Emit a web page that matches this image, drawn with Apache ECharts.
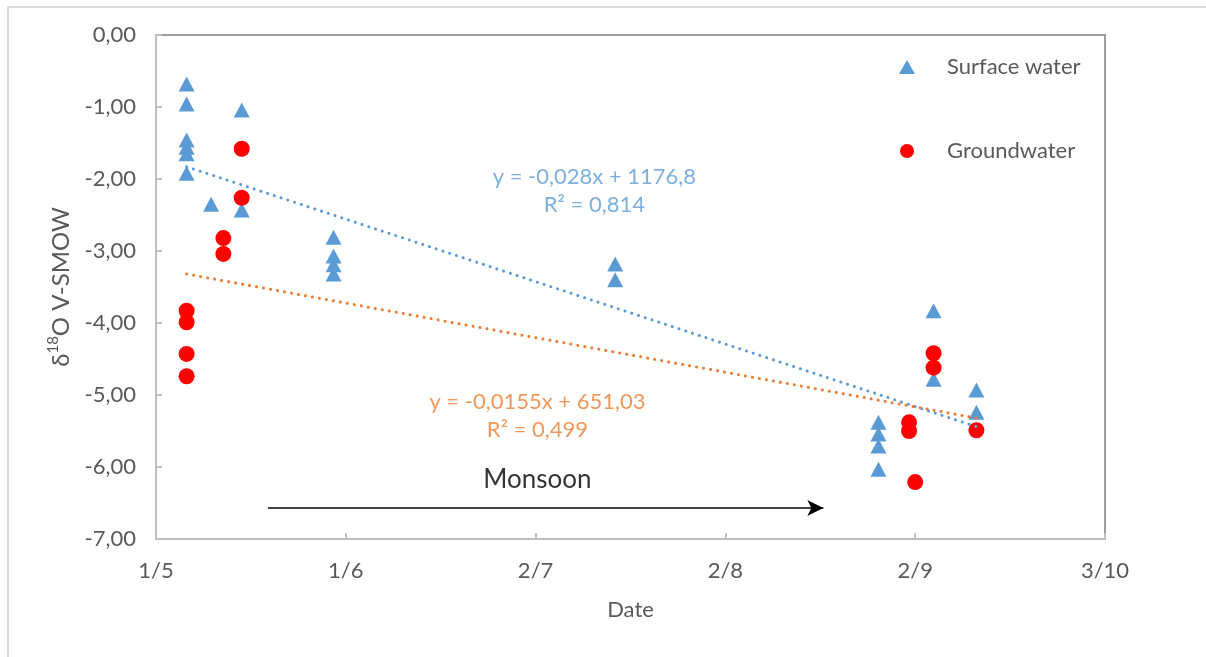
<!DOCTYPE html>
<html>
<head>
<meta charset="utf-8">
<script src="https://cdn.jsdelivr.net/npm/echarts@6/dist/echarts.min.js"></script>
<style>
html,body{margin:0;padding:0;background:#fff;}
#chart{width:1206px;height:657px;}
</style>
</head>
<body>
<div id="chart"></div>
<script>
// Sampling day = days after 1 May
var surfaceDay  = [5, 5, 5, 5, 5, 5, 9, 14, 14, 29, 29, 29, 29, 75, 75, 118, 118, 118, 118, 127, 127, 134, 134];
var surfaceD18O = [-0.68, -0.96, -1.46, -1.56, -1.65, -1.92, -2.35, -1.04, -2.43, -2.81, -3.07, -3.19, -3.32, -3.18, -3.40, -5.38, -5.54, -5.71, -6.03, -3.83, -4.78, -4.93, -5.24];

var groundDay  = [5, 5, 5, 5, 11, 11, 14, 14, 123, 123, 124, 127, 127, 134];
var groundD18O = [-3.83, -3.99, -4.43, -4.74, -2.82, -3.04, -1.58, -2.26, -5.38, -5.50, -6.21, -4.42, -4.62, -5.49];

// Trendline endpoints
var surfaceTrendDay = [5, 134];
var surfaceTrendVal = [-1.83, -5.44];
var groundTrendDay  = [5, 134];
var groundTrendVal  = [-3.32, -5.32];

var xTickLabels = ['1/5', '1/6', '2/7', '2/8', '2/9', '3/10'];
var xTickStep = 31;

var surfaceEq = ['y = -0,028x + 1176,8', 'R\u00b2 = 0,814'];
var groundEq  = ['y = -0,0155x + 651,03', 'R\u00b2 = 0,499'];
var surfaceEqPos = [[71.6, -1.97], [71.6, -2.36]];
var groundEqPos  = [[62.3, -5.10], [62.3, -5.49]];

var monsoonLabel = 'Monsoon';
var monsoonLabelPos = [62.3, -6.18];
var monsoonArrowDay = [18.3, 109];
var monsoonArrowVal = -6.57;

function zip(a, b) { return a.map(function (v, i) { return [v, b[i]]; }); }

var FONT = 'Lato';
var FS = 22;
var TXT = '#595959';
var BLUE = '#5B9BD5';
var RED = '#FF0000';
var ORANGE = '#ED7D31';

var chart = echarts.init(document.getElementById('chart'), null, {renderer: 'canvas'});

var annData = [];
surfaceEq.forEach(function (t, i) { annData.push({value: [surfaceEqPos[i][0], surfaceEqPos[i][1]], label: {formatter: t, color: BLUE}}); });
groundEq.forEach(function (t, i) { annData.push({value: [groundEqPos[i][0], groundEqPos[i][1]], label: {formatter: t, color: ORANGE}}); });
annData.push({value: monsoonLabelPos, label: {formatter: monsoonLabel, color: '#000', fontSize: 26}});

chart.setOption({
  animation: false,
  backgroundColor: '#fff',
  textStyle: {fontFamily: FONT},
  graphic: [{
    type: 'rect', z: -10, silent: true,
    shape: {x: 8, y: 7, width: 1300, height: 800},
    style: {fill: null, stroke: '#d9d9d9', lineWidth: 2}
  }],
  grid: {left: 156, right: 101, top: 35, bottom: 118, show: true, borderColor: '#7f7f7f', borderWidth: 1.5, backgroundColor: 'transparent'},
  legend: {
    orient: 'vertical', left: 894, top: 51, itemGap: 62,
    itemWidth: 16, itemHeight: 14,
    data: ['Surface water', 'Groundwater'],
    textStyle: {fontFamily: FONT, fontSize: FS, color: TXT, padding: [0, 0, 0, 27]}
  },
  xAxis: {
    type: 'value', min: 0, max: xTickStep * (xTickLabels.length - 1), interval: xTickStep,
    name: 'Date', nameLocation: 'middle', nameGap: 60,
    nameTextStyle: {fontFamily: FONT, fontSize: FS, color: TXT},
    axisLine: {onZero: false, lineStyle: {color: '#bfbfbf', width: 2}},
    axisTick: {inside: true, length: 6, lineStyle: {color: '#bfbfbf', width: 2}},
    axisLabel: {margin: 21, fontFamily: FONT, fontSize: FS, color: TXT,
      formatter: function (v) { return xTickLabels[Math.round(v / xTickStep)]; }},
    splitLine: {show: false}
  },
  yAxis: {
    type: 'value', min: -7, max: 0, interval: 1,
    name: '{a|\u03b4}{s|18}{a|O V-SMOW}', nameLocation: 'middle', nameGap: 82, nameRotate: 90,
    nameTextStyle: {fontFamily: FONT, fontSize: 24, color: TXT,
      rich: {a: {fontFamily: FONT, fontSize: 24, color: TXT, verticalAlign: 'bottom', lineHeight: 28},
             s: {fontFamily: FONT, fontSize: 15, color: TXT, verticalAlign: 'top', padding: [0, 0, 9, 0], lineHeight: 28}}},
    axisLine: {onZero: false, lineStyle: {color: '#bfbfbf', width: 2}},
    axisTick: {inside: true, length: 6, lineStyle: {color: '#bfbfbf', width: 2}},
    axisLabel: {margin: 20, fontFamily: FONT, fontSize: FS, color: TXT,
      formatter: function (v) { return v.toFixed(2).replace('.', ','); }},
    splitLine: {show: false}
  },
  series: [
    {
      name: 'Surface water', type: 'scatter', z: 2,
      symbol: 'triangle', symbolSize: [16, 15],
      itemStyle: {color: BLUE, opacity: 1},
      data: zip(surfaceDay, surfaceD18O)
    },
    {
      name: 'Groundwater', type: 'scatter', z: 3,
      symbol: 'circle', symbolSize: 16,
      itemStyle: {color: RED, opacity: 1},
      data: zip(groundDay, groundD18O)
    },
    {
      name: 'Surface trend', type: 'line', z: 4, symbol: 'none', silent: true,
      lineStyle: {color: BLUE, width: 3, type: [0.1, 7], cap: 'round'},
      data: zip(surfaceTrendDay, surfaceTrendVal)
    },
    {
      name: 'Ground trend', type: 'line', z: 4, symbol: 'none', silent: true,
      lineStyle: {color: ORANGE, width: 3, type: [0.1, 7], cap: 'round'},
      data: zip(groundTrendDay, groundTrendVal),
      markLine: {
        silent: true, symbol: ['none', 'arrow'], symbolSize: [12, 16],
        label: {show: false},
        lineStyle: {color: '#000', width: 1.5, type: 'solid'},
        data: [[{coord: [monsoonArrowDay[0], monsoonArrowVal]}, {coord: [monsoonArrowDay[1], monsoonArrowVal]}]]
      }
    },
    {
      name: 'Annotations', type: 'scatter', z: 5, silent: true,
      symbolSize: 0,
      label: {show: true, position: 'inside', fontFamily: FONT, fontSize: FS},
      data: annData
    }
  ]
});
</script>
</body>
</html>
